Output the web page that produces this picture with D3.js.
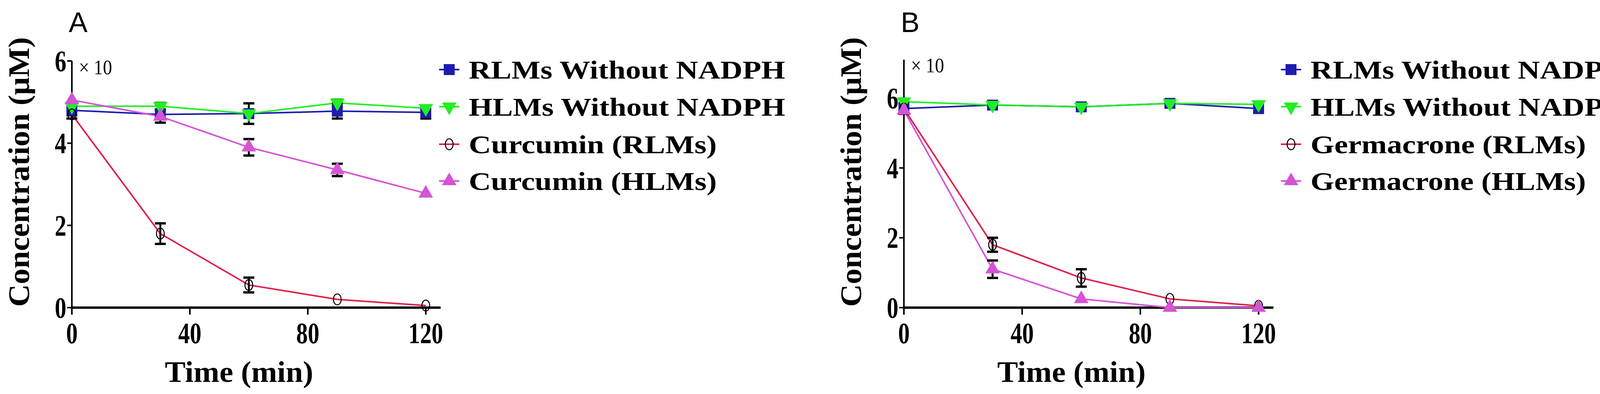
<!DOCTYPE html>
<html><head><meta charset="utf-8">
<script src="https://cdn.jsdelivr.net/npm/d3@7"></script>
<style>body{margin:0;background:#fff}</style>
</head><body>
<div id="chart"></div>
<script>
// time points and tick labels
const times = [0, 30, 60, 90, 120];
const xTicks = [0, 40, 80, 120];

// panel A (values x10 uM)
const aRlmNoNadph = [4.8, 4.7, 4.72, 4.78, 4.75];
const aRlmNoNadphErr = [0.12, 0.12, 0.25, 0.18, 0.15];
const aHlmNoNadph = [4.9, 4.9, 4.72, 4.98, 4.85];
const aHlmNoNadphErr = [0.1, 0.08, 0.1, 0.08, 0.06];
const aCurRlm = [4.7, 1.8, 0.55, 0.2, 0.05];
const aCurRlmErr = [0.1, 0.25, 0.18, 0.03, 0.03];
const aCurHlm = [5.05, 4.65, 3.9, 3.35, 2.78];
const aCurHlmErr = [0.05, 0.15, 0.2, 0.15, 0.03];

// panel B
const bRlmNoNadph = [5.7, 5.8, 5.75, 5.85, 5.7];
const bRlmNoNadphErr = [0.15, 0.05, 0.05, 0.05, 0.08];
const bHlmNoNadph = [5.9, 5.8, 5.75, 5.85, 5.82];
const bHlmNoNadphErr = [0.05, 0.05, 0.05, 0.05, 0.05];
const bGerRlm = [5.7, 1.8, 0.85, 0.25, 0.05];
const bGerRlmErr = [0.08, 0.2, 0.25, 0.03, 0.03];
const bGerHlm = [5.65, 1.1, 0.25, 0, 0];
const bGerHlmErr = [0.05, 0.25, 0.03, 0, 0];

const colors = {blue: "#1c1cb0", green: "#22ee22", red: "#e0204c", magenta: "#d454d4"};

const W = 4194, H = 1008;
const svg = d3.select("#chart").append("svg").attr("width", W).attr("height", H)
  .style("font-family", "'Liberation Serif', 'DejaVu Serif', serif");

function stretchText(g, x, y, str, size, anchor, sx) {
  return g.append("text")
    .attr("transform", `translate(${x},${y}) scale(${sx},1)`)
    .attr("text-anchor", anchor)
    .attr("font-size", size).attr("font-weight", "bold").text(str);
}

function marker(g, type, x, y, color) {
  if (type === "square") g.append("rect").attr("x", x - 14).attr("y", y - 14).attr("width", 28).attr("height", 28).attr("fill", color);
  else if (type === "down") g.append("path").attr("d", d3.symbol(d3.symbolTriangle, 600)()).attr("transform", `translate(${x},${y}) rotate(180)`).attr("fill", color);
  else if (type === "up") g.append("path").attr("d", d3.symbol(d3.symbolTriangle, 600)()).attr("transform", `translate(${x},${y})`).attr("fill", color);
  else g.append("ellipse").attr("cx", x).attr("cy", y).attr("rx", 10).attr("ry", 14).attr("fill", "none").attr("stroke", "#000").attr("stroke-width", 2.5);
}

function panel(opt) {
  const g = svg.append("g");
  const x = d3.scaleLinear().domain([0, 120]).range([opt.x0, opt.x1]);
  const y = d3.scaleLinear().domain([0, opt.yMax]).range([787, opt.yTop]);

  // axes
  g.append("line").attr("x1", opt.x0).attr("x2", opt.x1 + 38).attr("y1", 787).attr("y2", 787).attr("stroke", "#000").attr("stroke-width", 6);
  g.append("line").attr("x1", opt.x0).attr("x2", opt.x0).attr("y1", 787 + 18).attr("y2", y(opt.yLineTop)).attr("stroke", "#000").attr("stroke-width", 4);
  xTicks.forEach(t => {
    g.append("line").attr("x1", x(t)).attr("x2", x(t)).attr("y1", 787).attr("y2", 805).attr("stroke", "#000").attr("stroke-width", 4);
    stretchText(g, x(t), 878, t, 76, "middle", 0.78);
  });
  opt.yTicks.forEach(t => {
    g.append("line").attr("x1", opt.x0 - 12).attr("x2", opt.x0).attr("y1", y(t)).attr("y2", y(t)).attr("stroke", "#000").attr("stroke-width", 4);
    stretchText(g, opt.x0 - 14, y(t) + 26, t, 76, "end", 0.78);
  });
  g.append("text").attr("x", opt.x0 + 18).attr("y", opt.x10y).attr("font-size", 52)
    .attr("transform", `translate(${opt.x0 + 18},0) scale(0.9,1) translate(${-(opt.x0 + 18)},0)`)
    .text("× 10");
  g.append("text").attr("x", (opt.x0 + opt.x1) / 2 - 25).attr("y", 977).attr("text-anchor", "middle")
    .attr("font-size", 76).attr("font-weight", "bold")
    .attr("textLength", 380).attr("lengthAdjust", "spacingAndGlyphs").text("Time (min)");
  g.append("text").attr("transform", `translate(${opt.x0 - 110},440) rotate(-90) scale(1,1.3)`)
    .attr("text-anchor", "middle").attr("font-size", 58).attr("font-weight", "bold")
    .attr("textLength", 690).attr("lengthAdjust", "spacingAndGlyphs").text("Concentration (μM)");
  g.append("text").attr("x", opt.x0 - 8).attr("y", 82).attr("font-size", 72)
    .attr("font-family", "'Liberation Sans', Arial, sans-serif").text(opt.letter);

  const line = d3.line().x((d, i) => x(times[i])).y(d => y(d));
  opt.series.forEach(s => {
    g.append("path").attr("d", line(s.v)).attr("fill", "none").attr("stroke", s.color).attr("stroke-width", 4);
  });
  opt.series.forEach(s => {
    s.v.forEach((v, i) => {
      const e = s.e[i];
      if (e < 0.06) return;
      const cx = x(times[i]);
      g.append("line").attr("x1", cx).attr("x2", cx).attr("y1", y(v - e)).attr("y2", y(v + e)).attr("stroke", "#000").attr("stroke-width", 5);
      [v - e, v + e].forEach(b => g.append("line").attr("x1", cx - 14).attr("x2", cx + 14).attr("y1", y(b)).attr("y2", y(b)).attr("stroke", "#000").attr("stroke-width", 6));
    });
  });
  opt.series.forEach(s => s.v.forEach((v, i) => marker(g, s.m, x(times[i]), y(v), s.color)));

  // legend
  const rows = [178, 273, 369, 463];
  opt.series.forEach((s, i) => {
    const ly = rows[i];
    g.append("line").attr("x1", opt.lx - 26).attr("x2", opt.lx + 26).attr("y1", ly).attr("y2", ly).attr("stroke", s.color).attr("stroke-width", 4);
    marker(g, s.m, opt.lx, ly, s.color);
    g.append("text").attr("x", opt.lx + 50).attr("y", ly + 23).attr("font-size", 66).attr("font-weight", "bold")
      .attr("textLength", s.len).attr("lengthAdjust", "spacingAndGlyphs").text(s.name);
  });
}

panel({
  letter: "A", x0: 184, x1: 1090, yMax: 6, yTop: 156, yLineTop: 6, yTicks: [0, 2, 4, 6], x10y: 190, lx: 1150,
  series: [
    {name: "RLMs Without NADPH", v: aRlmNoNadph, e: aRlmNoNadphErr, color: colors.blue, m: "square", len: 810},
    {name: "HLMs Without NADPH", v: aHlmNoNadph, e: aHlmNoNadphErr, color: colors.green, m: "down", len: 810},
    {name: "Curcumin (RLMs)", v: aCurRlm, e: aCurRlmErr, color: colors.red, m: "circle", len: 635},
    {name: "Curcumin (HLMs)", v: aCurHlm, e: aCurHlmErr, color: colors.magenta, m: "up", len: 635}
  ]
});
panel({
  letter: "B", x0: 2314, x1: 3222, yMax: 6, yTop: 251, yLineTop: 7.1, yTicks: [0, 2, 4, 6], x10y: 185, lx: 3305,
  series: [
    {name: "RLMs Without NADPH", v: bRlmNoNadph, e: bRlmNoNadphErr, color: colors.blue, m: "square", len: 810},
    {name: "HLMs Without NADPH", v: bHlmNoNadph, e: bHlmNoNadphErr, color: colors.green, m: "down", len: 810},
    {name: "Germacrone (RLMs)", v: bGerRlm, e: bGerRlmErr, color: colors.red, m: "circle", len: 705},
    {name: "Germacrone (HLMs)", v: bGerHlm, e: bGerHlmErr, color: colors.magenta, m: "up", len: 705}
  ]
});
</script>
</body></html>
